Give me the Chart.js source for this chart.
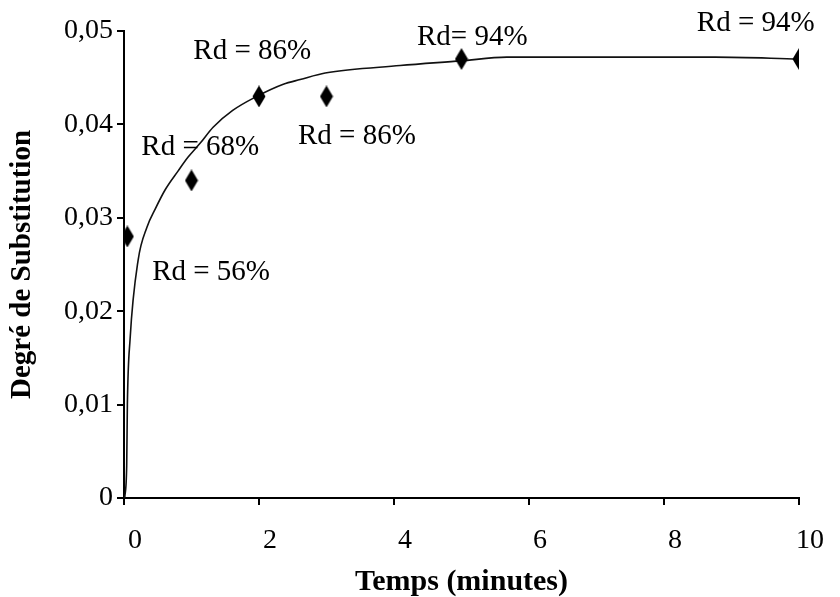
<!DOCTYPE html>
<html>
<head>
<meta charset="utf-8">
<script src="https://cdn.jsdelivr.net/npm/chart.js@4.4.0/dist/chart.umd.min.js"></script>
<style>
  html, body { margin: 0; padding: 0; background: #fff; }
  #wrap { width: 840px; height: 597px; }
</style>
</head>
<body>
<div id="wrap"><canvas id="chart"></canvas></div>
<script>
// mesures (losanges)
var pointsX = [0.05, 1, 2, 3, 5, 10];
var pointsY = [0.028, 0.034, 0.043, 0.043, 0.047, 0.047];

// courbe ajustée
var curveX = [0.01, 0.04, 0.05, 0.09, 0.21, 0.34, 0.46, 0.61, 0.80, 0.95, 1.13, 1.32, 1.61, 1.94, 2.36, 2.61, 2.98, 4.09, 4.99, 5.67, 8.76, 9.99];
var curveY = [0, 0.0035, 0.01, 0.017, 0.0255, 0.029, 0.0309, 0.0330, 0.0350, 0.0365, 0.0380, 0.0397, 0.0415, 0.0429, 0.0443, 0.0448, 0.0455, 0.0463, 0.0468, 0.0472, 0.0472, 0.0470];

// étiquettes Rd
var rdTexts = ['Rd = 56%', 'Rd = 68%', 'Rd = 86%', 'Rd = 86%', 'Rd= 94%', 'Rd = 94%'];
var rdX = [1.29, 1.13, 1.90, 3.45, 5.16, 9.36];
var rdY = [0.0242, 0.0375, 0.0478, 0.0387, 0.0493, 0.0508];

var xTicks = [0, 2, 4, 6, 8, 10];
var yTicks = [0, 0.01, 0.02, 0.03, 0.04, 0.05];

var serif = '"Liberation Serif", "Times New Roman", serif';

// losange étiré verticalement
var diamond = document.createElement('canvas');
diamond.width = 14;
diamond.height = 22;
var dctx = diamond.getContext('2d');
dctx.fillStyle = '#000';
dctx.beginPath();
dctx.moveTo(7, 0);
dctx.lineTo(13.5, 11);
dctx.lineTo(7, 22);
dctx.lineTo(0.5, 11);
dctx.closePath();
dctx.fill();

var rdLabels = {
    id: 'rdLabels',
    afterDatasetsDraw: function(chart) {
        var ctx = chart.ctx;
        var xs = chart.scales.x, ys = chart.scales.y;
        ctx.save();
        ctx.fillStyle = '#000';
        ctx.font = '29px ' + serif;
        ctx.textAlign = 'center';
        ctx.textBaseline = 'middle';
        for (var i = 0; i < rdTexts.length; i++) {
            ctx.fillText(rdTexts[i], xs.getPixelForValue(rdX[i]), ys.getPixelForValue(rdY[i]));
        }
        ctx.restore();
    }
};

new Chart(document.getElementById('chart'), {
    type: 'scatter',
    data: {
        datasets: [{
            type: 'line',
            data: curveX.map(function(x, i) { return { x: x, y: curveY[i] }; }),
            borderColor: '#111',
            borderWidth: 1.6,
            pointRadius: 0,
            fill: false,
            cubicInterpolationMode: 'monotone',
            order: 2
        }, {
            data: pointsX.map(function(x, i) { return { x: x, y: pointsY[i] }; }),
            pointStyle: diamond,
            order: 1
        }]
    },
    options: {
        responsive: true,
        maintainAspectRatio: false,
        animation: false,
        layout: { padding: { top: 31, right: 41, left: 0, bottom: 0 } },
        plugins: {
            legend: { display: false },
            tooltip: { enabled: false }
        },
        scales: {
            x: {
                type: 'linear',
                min: 0,
                max: 10,
                afterBuildTicks: function(s) { s.ticks = xTicks.map(function(v) { return { value: v }; }); },
                afterFit: function(s) { s.height = 99; },
                grid: { drawOnChartArea: false, drawTicks: true, tickLength: 7, color: '#000', lineWidth: 2 },
                border: { display: true, color: '#000', width: 2 },
                ticks: {
                    color: '#000',
                    padding: 19,
                    labelOffset: 11,
                    font: { family: serif, size: 28 },
                    maxRotation: 0
                },
                title: {
                    display: true,
                    text: 'Temps (minutes)',
                    color: '#000',
                    font: { family: serif, size: 30, weight: 'bold', lineHeight: 1.0 },
                    padding: { top: 0, bottom: 0 }
                }
            },
            y: {
                type: 'linear',
                min: 0,
                max: 0.05,
                afterBuildTicks: function(s) { s.ticks = yTicks.map(function(v) { return { value: v }; }); },
                afterFit: function(s) { s.width = 124; },
                grid: { drawOnChartArea: false, drawTicks: true, tickLength: 7, color: '#000', lineWidth: 2 },
                border: { display: true, color: '#000', width: 2 },
                ticks: {
                    color: '#000',
                    padding: 4,
                    font: { family: serif, size: 28 },
                    callback: function(v) { return v === 0 ? '0' : v.toFixed(2).replace('.', ','); }
                },
                title: {
                    display: true,
                    text: 'Degré de Substitution',
                    color: '#000',
                    font: { family: serif, size: 29, weight: 'bold', lineHeight: 1.0 },
                    padding: { top: 8, bottom: 0 }
                }
            }
        }
    },
    plugins: [rdLabels]
});
</script>
</body>
</html>
